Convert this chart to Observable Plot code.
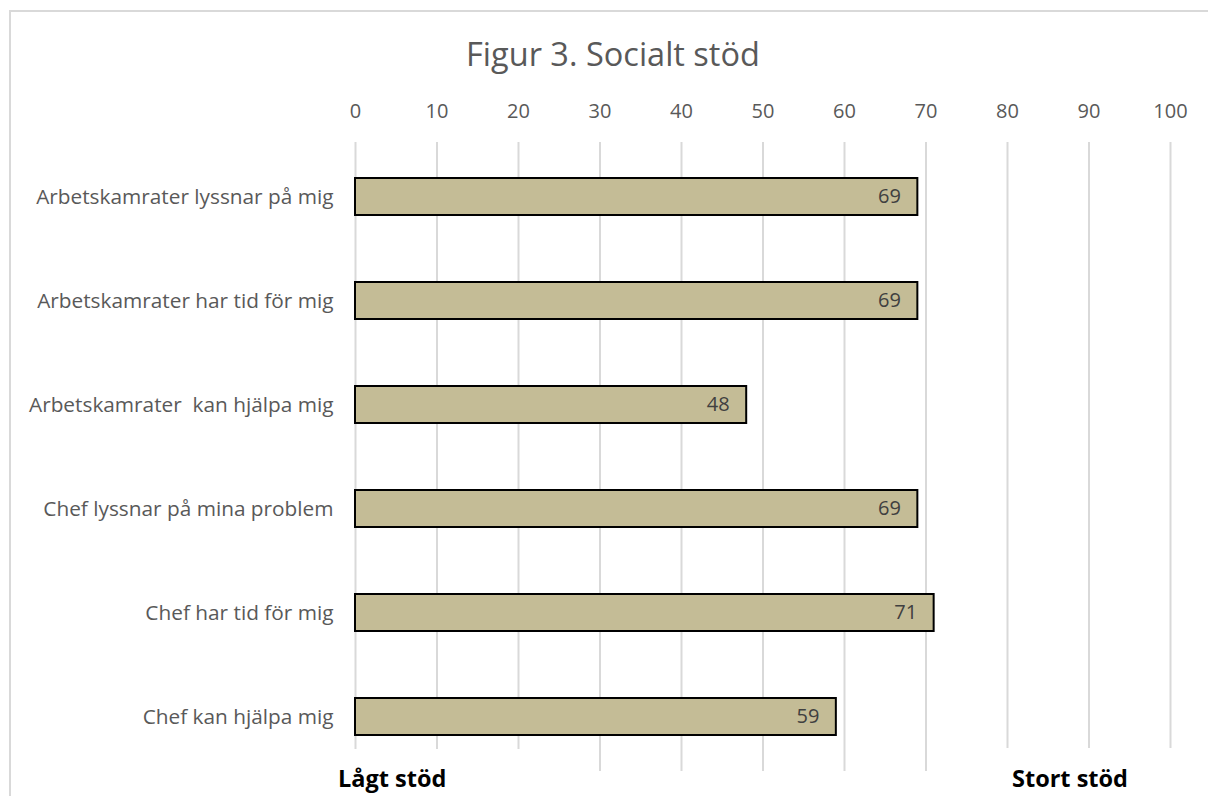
<!DOCTYPE html>
<html>
<head>
<meta charset="utf-8">
<script src="https://cdn.jsdelivr.net/npm/d3@7"></script>
<script src="https://cdn.jsdelivr.net/npm/@observablehq/plot@0.6"></script>
<style>
  html, body { margin: 0; padding: 0; background: #fff; overflow: hidden; }
  #wrap { position: relative; width: 1208px; height: 796px; overflow: hidden; font-family: "Open Sans", sans-serif; }
  #frame { position: absolute; left: 9px; top: 10px; width: 1199px; height: 786px; border-top: 2px solid #d9d9d9; border-left: 2px solid #d9d9d9; box-sizing: border-box; }
  #title { position: absolute; left: 0; width: 1226px; top: 31px; text-align: center; font-size: 32.5px; color: #595959; }
  #chart { position: absolute; left: 0; top: 80px; }
  .note { position: absolute; background: #fff; font-weight: bold; font-size: 23.5px; color: #000; white-space: nowrap; }
</style>
</head>
<body>
<div id="wrap">
  <div id="frame"></div>
  <div id="title">Figur 3. Socialt stöd</div>
  <div id="chart"></div>
  <div class="note" style="left:330px; top:749px; width:258px; height:47px;"><span style="position:absolute; left:8px; top:13px;">Lågt stöd</span></div>
  <div class="note" style="left:932px; top:748px; width:270px; height:48px;"><span style="position:absolute; left:80px; top:14px;">Stort stöd</span></div>
</div>
<script>
// Social support items, top to bottom, and their scores (0–100)
const categories = [
  "Arbetskamrater lyssnar på mig",
  "Arbetskamrater har tid för mig",
  "Arbetskamrater  kan hjälpa mig",
  "Chef lyssnar på mina problem",
  "Chef har tid för mig",
  "Chef kan hjälpa mig"
];
const values = [69, 69, 48, 69, 71, 59];
const xTicks = [0, 10, 20, 30, 40, 50, 60, 70, 80, 90, 100];

const data = categories.map((c, i) => ({item: c, value: values[i]}));

const chart = Plot.plot({
  width: 1208,
  height: 716,
  marginLeft: 355,
  marginRight: 38,
  marginTop: 62,
  marginBottom: 25,
  style: {fontFamily: "'Open Sans', sans-serif", background: "transparent", overflow: "visible"},
  x: {domain: [0, 100]},
  y: {domain: categories, paddingInner: 0.64, paddingOuter: 0.32},
  marks: [
    Plot.ruleX(xTicks, {stroke: "#d9d9d9", strokeWidth: 2}),
    Plot.barX(data, {x: "value", y: "item", fill: "#c4bc96", stroke: "#000", strokeWidth: 2}),
    Plot.text(data, {x: "value", y: "item", text: d => String(d.value), textAnchor: "end", dx: -17, fill: "#404040", fontSize: 20}),
    Plot.axisX(xTicks, {anchor: "top", tickSize: 0, tickPadding: 25, fontSize: 20, color: "#595959", label: null, tickFormat: d => String(d)}),
    Plot.axisY({anchor: "left", tickSize: 0, tickPadding: 22, fontSize: 20.8, color: "#595959", label: null})
  ]
});
document.getElementById("chart").appendChild(chart);
</script>
</body>
</html>
